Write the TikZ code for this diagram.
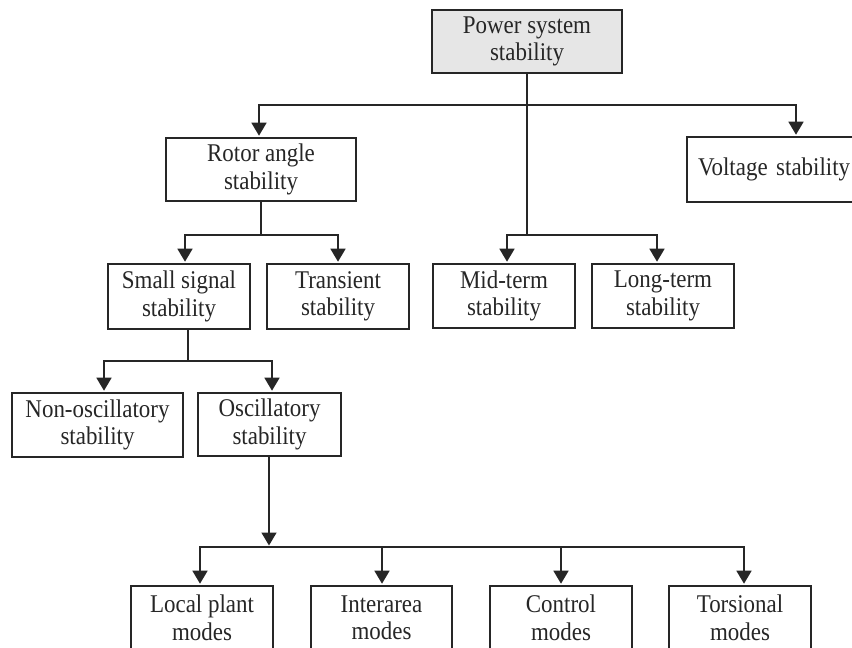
\documentclass[tikz,border=0pt]{standalone}
\usepackage{fontspec}
\setmainfont{Liberation Serif}[FakeStretch=0.9]
\usetikzlibrary{arrows.meta,calc}
\definecolor{boxgray}{HTML}{E6E6E6}
\begin{document}
\begin{tikzpicture}[x=1pt,y=-1pt,
  box/.style={draw=black!85,line width=1.6pt,rectangle,inner sep=2pt,align=center,
    font=\fontsize{25.5}{27.5}\selectfont,text=black!85},
  line/.style={draw=black!85,line width=1.6pt},
  arr/.style={line,-{Triangle[length=13pt,width=15pt]},shorten >=1.5pt}]
\clip (0,0) rectangle (852,648);
\fill[white] (0,0) rectangle (852,648);
% boxes
\node[box,fill=boxgray,minimum width=190pt,minimum height=63pt] (pss) at (527,41.5) {Power system\\stability};
\node[box,minimum width=190pt,minimum height=63pt] (rotor) at (261,169.5) {Rotor angle\\stability};
\node[box,minimum height=65pt,inner xsep=11pt,text width=162pt,align=left] (volt) at (779,169.5) {Voltage stability};
\node[box,minimum width=142pt,minimum height=65pt] (small) at (179,296.5) {Small signal\\stability};
\node[box,minimum width=142pt,minimum height=65pt] (trans) at (338,296.5) {Transient\\stability};
\node[box,minimum width=142pt,minimum height=64pt] (mid) at (504,296) {Mid-term\\stability};
\node[box,minimum width=142pt,minimum height=64pt] (long) at (663,296) {Long-term\\stability};
\node[box,minimum width=171pt,minimum height=64pt] (nonosc) at (97.5,425) {Non-oscillatory\\stability};
\node[box,minimum width=143pt,minimum height=63pt] (osc) at (269.5,424.5) {Oscillatory\\stability};
\node[box,minimum width=142pt,minimum height=64pt] (local) at (202,618) {Local plant\\modes};
\node[box,minimum width=141pt,minimum height=64pt] (inter) at (381.5,618) {Interarea\\modes};
\node[box,minimum width=142pt,minimum height=64pt] (control) at (561,618) {Control\\modes};
\node[box,minimum width=142pt,minimum height=64pt] (tors) at (740,618) {Torsional\\modes};
% junction coordinates
\coordinate (j1) at (527,105);
\coordinate (j2) at (527,235);
\coordinate (j3) at (261,235);
\coordinate (j4) at (188,361);
\coordinate (j5) at (269,547);
% connectors
\draw[line] (pss.south) -- (j2);
\draw[arr] (j1) -| ([xshift=-2pt]rotor.north);
\draw[arr] (j1) -| ([xshift=17pt]volt.north);
\draw[arr] (j2) -| ([xshift=3pt]mid.north);
\draw[arr] (j2) -| ([xshift=-6pt]long.north);
\draw[line] (rotor.south) -- (j3);
\draw[arr] (j3) -| ([xshift=6pt]small.north);
\draw[arr] (j3) -| (trans.north);
\draw[line] ([xshift=9pt]small.south) -- (j4);
\draw[arr] (j4) -| ([xshift=6.5pt]nonosc.north);
\draw[arr] (j4) -| ([xshift=2.5pt]osc.north);
\draw[arr] ([xshift=-0.5pt]osc.south) -- (j5);
\draw[arr] (j5) -| ([xshift=-2pt]local.north);
\draw[arr] (j5) -| ([xshift=0.5pt]inter.north);
\draw[arr] (j5) -| (control.north);
\draw[arr] (j5) -| ([xshift=4pt]tors.north);
\end{tikzpicture}
\end{document}
